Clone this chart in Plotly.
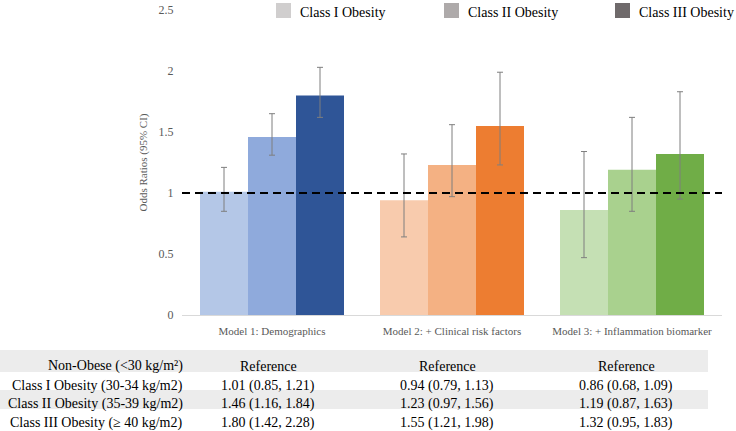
import plotly.graph_objects as go

# ---------------- data ----------------
models = ["Model 1: Demographics", "Model 2: + Clinical risk factors", "Model 3: + Inflammation biomarker"]
classes = ["Class I Obesity", "Class II Obesity", "Class III Obesity"]

# odds ratios (bar heights)
or_class1 = [1.01, 0.94, 0.86]
or_class2 = [1.46, 1.23, 1.19]
or_class3 = [1.80, 1.55, 1.32]

# error bar ends as drawn in the chart
bar_low_class1 = [0.85, 0.64, 0.47]
bar_high_class1 = [1.21, 1.32, 1.34]
bar_low_class2 = [1.31, 0.97, 0.85]
bar_high_class2 = [1.65, 1.56, 1.62]
bar_low_class3 = [1.62, 1.23, 0.95]
bar_high_class3 = [2.03, 1.99, 1.83]

# table confidence intervals
ci_low_class1 = [0.85, 0.79, 0.68]
ci_high_class1 = [1.21, 1.13, 1.09]
ci_low_class2 = [1.16, 0.97, 0.87]
ci_high_class2 = [1.84, 1.56, 1.63]
ci_low_class3 = [1.42, 1.21, 0.95]
ci_high_class3 = [2.28, 1.98, 1.83]

table_row_labels = ["Non-Obese (&lt;30 kg/m²)", "Class I Obesity (30-34 kg/m2)",
                    "Class II Obesity (35-39 kg/m2)", "Class III Obesity (≥ 40 kg/m2)"]
reference_label = "Reference"

# colours: rows = class, columns = model
colors_class1 = ["#b4c7e7", "#f8cbad", "#c5e0b4"]
colors_class2 = ["#8faadc", "#f4b183", "#a9d18e"]
colors_class3 = ["#2f5597", "#ed7d31", "#70ad47"]
legend_colors = ["#d0cece", "#aeaaaa", "#6f6a6b"]

FONT = "Liberation Serif, Times New Roman, serif"
GRAY = "#595959"

# plot area geometry (pixels)
PL, PR, PT, PB = 182, 722, 10, 315


def xpix(p):
    return (p - PL) / float(PR - PL)


def ypix(p):
    return (PB - p) / float(PB - PT)


# ---------------- figure ----------------
fig = go.Figure()

series = [
    (or_class1, bar_low_class1, bar_high_class1, colors_class1),
    (or_class2, bar_low_class2, bar_high_class2, colors_class2),
    (or_class3, bar_low_class3, bar_high_class3, colors_class3),
]
for name, (vals, lo, hi, cols) in zip(classes, series):
    fig.add_trace(go.Bar(
        x=models, y=vals, name=name, showlegend=False,
        marker=dict(color=cols, line=dict(width=0)),
        error_y=dict(type="data", symmetric=False,
                     array=[h - v for h, v in zip(hi, vals)],
                     arrayminus=[v - l for v, l in zip(vals, lo)],
                     color="#7f7f7f", thickness=1, width=3),
    ))

# reference line at OR = 1
fig.add_shape(type="line", xref="paper", x0=0, x1=1, yref="y", y0=1, y1=1,
              line=dict(color="black", width=2, dash="8px,5px"), layer="above")

# ---------------- legend (gray squares + labels) ----------------
legend_square_left = [276, 444, 615]
for name, col, sx in zip(classes, legend_colors, legend_square_left):
    fig.add_shape(type="rect", xref="paper", yref="paper",
                  x0=xpix(sx), x1=xpix(sx + 15), y0=ypix(18), y1=ypix(3),
                  fillcolor=col, line=dict(width=0), layer="above")
    fig.add_annotation(xref="paper", yref="paper", x=xpix(sx + 22), y=ypix(12.5),
                       xanchor="left", yanchor="middle", text=name, showarrow=False,
                       font=dict(family=FONT, size=14, color="black"))

# ---------------- table below ----------------
band_color = "#ececec"
for top, bot in [(350, 372), (390, 409)]:
    fig.add_shape(type="rect", xref="paper", yref="paper",
                  x0=xpix(0), x1=xpix(708), y0=ypix(bot), y1=ypix(top),
                  fillcolor=band_color, line=dict(width=0), layer="below")

row_centers = [366, 386, 404, 422.5]
col_centers = [268, 447, 626]


def fmt(v, lo, hi):
    return f"{v:.2f} ({lo:.2f}, {hi:.2f})"


table_cells = [
    [reference_label] * 3,
    [fmt(v, l, h) for v, l, h in zip(or_class1, ci_low_class1, ci_high_class1)],
    [fmt(v, l, h) for v, l, h in zip(or_class2, ci_low_class2, ci_high_class2)],
    [fmt(v, l, h) for v, l, h in zip(or_class3, ci_low_class3, ci_high_class3)],
]

for label, cells, yc in zip(table_row_labels, table_cells, row_centers):
    fig.add_annotation(xref="paper", yref="paper", x=xpix(185), y=ypix(yc),
                       xanchor="right", yanchor="middle", text=label, showarrow=False,
                       font=dict(family=FONT, size=14, color="black"))
    for txt, xc in zip(cells, col_centers):
        fig.add_annotation(xref="paper", yref="paper", x=xpix(xc), y=ypix(yc),
                           xanchor="center", yanchor="middle", text=txt, showarrow=False,
                           font=dict(family=FONT, size=14, color="black"))

fig.update_layout(
    width=736, height=431,
    margin=dict(l=PL, r=736 - PR, t=PT, b=431 - PB, autoexpand=False),
    paper_bgcolor="white", plot_bgcolor="white",
    barmode="group", bargap=0.2, bargroupgap=0,
    showlegend=False,
    font=dict(family=FONT, color=GRAY),
    xaxis=dict(showgrid=False, showline=True, linecolor="#d9d9d9", linewidth=1,
               ticks="outside", ticklen=6, tickcolor="rgba(0,0,0,0)",
               tickfont=dict(family=FONT, size=11, color=GRAY), zeroline=False),
    yaxis=dict(range=[0, 2.5], dtick=0.5, tick0=0, showgrid=False, showline=False,
               zeroline=False, ticks="outside", ticklen=5, tickcolor="rgba(0,0,0,0)",
               tickfont=dict(family=FONT, size=12, color=GRAY),
               title=dict(text="Odds Ratios (95% CI)", standoff=8,
                          font=dict(family=FONT, size=11, color=GRAY))),
)

fig.write_html("out.html",
               config={"displayModeBar": False},
               post_script="document.body.style.margin='0';document.body.style.overflow='hidden';")
